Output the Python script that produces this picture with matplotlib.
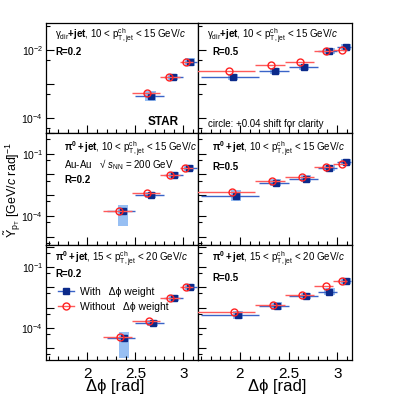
import numpy as np
import matplotlib
matplotlib.use("Agg")
import matplotlib.pyplot as plt
from matplotlib.lines import Line2D
from matplotlib.ticker import FixedLocator, FuncFormatter, MultipleLocator

plt.rcParams["font.family"] = ["Liberation Sans", "DejaVu Sans"]
plt.rcParams["mathtext.fontset"] = "custom"
plt.rcParams["mathtext.rm"] = "Liberation Sans"
plt.rcParams["mathtext.it"] = "Liberation Sans:italic"
plt.rcParams["mathtext.bf"] = "Liberation Sans:bold"

BLUE_MK = "#0b2a8a"
BLUE_BAR = "#3a64c8"
BLUE_SYS = "#8cb8f2"
RED = "#ff2020"
RED_BAR = "#ff5a5a"
SHIFT = 0.04   # circles drawn shifted for clarity

# bin edges
r02_lo = [2.2, 2.5, 2.8, 3.0]
r02_hi = [2.5, 2.8, 3.0, 3.14]
r05_lo = [1.6, 2.2, 2.5, 2.8, 3.0]
r05_hi = [2.2, 2.5, 2.8, 3.0, 3.14]

# gamma_dir+jet, 10-15 GeV/c, R=0.2
gam_r02_x = [2.66, 2.89, 3.07]
gam_r02_with = [4.5e-4, 1.6e-3, 4.4e-3]
gam_r02_without = [5.5e-4, 1.65e-3, 4.4e-3]
gam_r02_sys_up = [0.41, 0.23, 0.35]
gam_r02_sys_dn = [0.29, 0.19, 0.26]

# gamma_dir+jet, 10-15 GeV/c, R=0.5
gam_r05_x = [1.93, 2.36, 2.66, 2.92, 3.09]
gam_r05_with = [1.6e-3, 2.4e-3, 3.2e-3, 9.3e-3, 1.23e-2]
gam_r05_without = [2.4e-3, 3.6e-3, 4.5e-3, 9.3e-3, 1.0e-2]
gam_r05_sys_up = [0.26, 0.22, 0.22, 0.22, 0.22]
gam_r05_sys_dn = [0.20, 0.18, 0.18, 0.18, 0.18]

# pi0+jet, 10-15 GeV/c, R=0.2
pi1_r02_x = [2.37, 2.66, 2.90, 3.06]
pi1_r02_with = [1.8e-4, 1.05e-3, 9.8e-3, 2.1e-2]
pi1_r02_without = [1.8e-4, 1.3e-3, 9.8e-3, 2.1e-2]
pi1_r02_sys_up = [0.95, 0.41, 0.41, 0.41]
pi1_r02_sys_dn = [0.81, 0.29, 0.29, 0.29]

# pi0+jet, 10-15 GeV/c, R=0.5
pi1_r05_x = [1.96, 2.37, 2.68, 2.92, 3.09]
pi1_r05_with = [9.3e-4, 4.0e-3, 6.2e-3, 2.1e-2, 4.1e-2]
pi1_r05_without = [1.45e-3, 5.0e-3, 7.8e-3, 2.3e-2, 3.3e-2]
pi1_r05_sys_up = [0.85, 0.48, 0.48, 0.40, 0.40]
pi1_r05_sys_dn = [0.46, 0.32, 0.32, 0.28, 0.28]

# pi0+jet, 15-20 GeV/c, R=0.2
pi2_r02_x = [2.38, 2.68, 2.90, 3.07]
pi2_r02_with = [3.2e-5, 1.8e-4, 3.0e-3, 1.0e-2]
pi2_r02_without = [3.6e-5, 2.2e-4, 3.0e-3, 1.0e-2]
pi2_r02_sys_up = [0.95, 0.41, 0.41, 0.41]
pi2_r02_sys_dn = [0.90, 0.29, 0.29, 0.29]

# pi0+jet, 15-20 GeV/c, R=0.5
pi2_r05_x = [1.98, 2.38, 2.68, 2.92, 3.09]
pi2_r05_with = [4.4e-4, 1.2e-3, 3.7e-3, 5.9e-3, 2.0e-2]
pi2_r05_without = [6.0e-4, 1.35e-3, 4.2e-3, 1.15e-2, 2.0e-2]
pi2_r05_sys_up = [0.58, 0.58, 0.41, 0.48, 0.41]
pi2_r05_sys_dn = [0.37, 0.37, 0.29, 0.32, 0.29]

W, H = 397, 401


def px(x, y):
    return x / W, 1 - y / H


def draw_panel(ax, x, lo, hi, yw, ywo, up, dn):
    x = np.array(x)
    lo = np.array(lo[-len(x):])
    hi = np.array(hi[-len(x):])
    yw = np.array(yw)
    ywo = np.array(ywo)
    blo = yw * (1 - np.array(dn))
    bhi = yw * (1 + np.array(up))
    ax.bar(x, bhi - blo, bottom=blo, width=0.11, color=BLUE_SYS,
           edgecolor="none", alpha=0.9, zorder=1)
    ax.errorbar(x, yw, xerr=[x - lo, hi - x], fmt="s", ms=4.5,
                color=BLUE_MK, ecolor=BLUE_BAR, elinewidth=1.0, capsize=0,
                zorder=3)
    ax.errorbar(x - SHIFT, ywo, xerr=[x - lo, hi - x], fmt="o", ms=5,
                mfc="none", mec=RED, mew=1.0, ecolor=RED_BAR, elinewidth=1.0,
                capsize=0, zorder=4)


def style_axis(ax, ylim, labeled, show_x, show_y):
    ax.set_yscale("log")
    ax.set_xlim(np.pi / 2, np.pi + 0.01)
    ax.set_ylim(*ylim)
    decades = [10.0 ** k for k in range(-7, 2)]
    ax.yaxis.set_major_locator(FixedLocator(decades))
    ax.yaxis.set_minor_locator(FixedLocator([5 * d for d in decades]))
    ax.yaxis.set_major_formatter(FuncFormatter(
        lambda v, p: rf"$10^{{{int(round(np.log10(v)))}}}$"
        if int(round(np.log10(v))) in labeled else ""))
    ax.yaxis.set_minor_formatter(FuncFormatter(lambda v, p: ""))
    ax.xaxis.set_major_locator(MultipleLocator(0.5))
    ax.xaxis.set_minor_locator(MultipleLocator(0.1))
    ax.xaxis.set_major_formatter(FuncFormatter(lambda v, p: f"{v:g}"))
    ax.tick_params(which="both", direction="in", top=False, right=False)
    ax.tick_params(which="major", length=6, width=0.8)
    ax.tick_params(which="minor", length=3, width=0.8)
    ax.tick_params(axis="x", labelsize=11, pad=5, labelbottom=show_x)
    ax.tick_params(axis="y", labelsize=7.5, pad=2, labelleft=show_y)
    for s in ax.spines.values():
        s.set_linewidth(0.9)


fig = plt.figure(figsize=(W / 100, H / 100), dpi=100)

cols = [(46, 198), (198, 352)]
rows = [(23, 133), (133, 245), (245, 360)]
ylims = [(10 ** -4.44, 10 ** -1.21), (10 ** -5.4, 1.0), (10 ** -5.58, 10 ** 0.08)]
labeled = [(-2, -4), (-1, -4), (-1, -4)]

data = [
    [(gam_r02_x, r02_lo, r02_hi, gam_r02_with, gam_r02_without, gam_r02_sys_up, gam_r02_sys_dn),
     (gam_r05_x, r05_lo, r05_hi, gam_r05_with, gam_r05_without, gam_r05_sys_up, gam_r05_sys_dn)],
    [(pi1_r02_x, r02_lo, r02_hi, pi1_r02_with, pi1_r02_without, pi1_r02_sys_up, pi1_r02_sys_dn),
     (pi1_r05_x, r05_lo, r05_hi, pi1_r05_with, pi1_r05_without, pi1_r05_sys_up, pi1_r05_sys_dn)],
    [(pi2_r02_x, r02_lo, r02_hi, pi2_r02_with, pi2_r02_without, pi2_r02_sys_up, pi2_r02_sys_dn),
     (pi2_r05_x, r05_lo, r05_hi, pi2_r05_with, pi2_r05_without, pi2_r05_sys_up, pi2_r05_sys_dn)],
]

axes = {}
for i, (y0, y1) in enumerate(rows):
    for j, (x0, x1) in enumerate(cols):
        ax = fig.add_axes([x0 / W, 1 - y1 / H, (x1 - x0) / W, (y1 - y0) / H])
        draw_panel(ax, *data[i][j])
        style_axis(ax, ylims[i], labeled[i], show_x=(i == 2), show_y=(j == 0))
        axes[i, j] = ax

FS = 7.0
pt = r"$\mathrm{p}^{\rm ch}_{\rm T,jet}$"
gam_head = "\u03b3$_{\\rm dir}$$\\mathbf{+jet}$, 10 < " + pt + " < 15 GeV/$c$"
pi1_head = "$\\mathbf{\u03c0^{0}+jet}$, 10 < " + pt + " < 15 GeV/$c$"
pi2_head = "$\\mathbf{\u03c0^{0}+jet}$, 15 < " + pt + " < 20 GeV/$c$"

fig.text(*px(55, 36), gam_head, fontsize=FS, va="center")
fig.text(*px(55, 52), "R=0.2", fontsize=FS, fontweight="bold", va="center")
fig.text(*px(148, 122), "STAR", fontsize=8.5, fontweight="bold", va="center")
fig.text(*px(207, 36), gam_head, fontsize=FS, va="center")
fig.text(*px(212, 52), "R=0.5", fontsize=FS, fontweight="bold", va="center")
fig.text(*px(208, 124), "circle: +0.04 shift for clarity", fontsize=FS, va="center")

fig.text(*px(64, 149), pi1_head, fontsize=FS, va="center")
fig.text(*px(64, 165), "Au-Au   \u221a $s_{\\rm NN}$ = 200 GeV", fontsize=FS, va="center")
fig.text(*px(64, 180), "R=0.2", fontsize=FS, fontweight="bold", va="center")
fig.text(*px(212, 149), pi1_head, fontsize=FS, va="center")
fig.text(*px(212, 167), "R=0.5", fontsize=FS, fontweight="bold", va="center")

fig.text(*px(55, 259), pi2_head, fontsize=FS, va="center")
fig.text(*px(55, 274), "R=0.2", fontsize=FS, fontweight="bold", va="center")
fig.text(*px(212, 259), pi2_head, fontsize=FS, va="center")
fig.text(*px(212, 278), "R=0.5", fontsize=FS, fontweight="bold", va="center")

h_with = Line2D([], [], marker="s", ms=4.5, color=BLUE_BAR, mfc=BLUE_MK, mec=BLUE_MK, lw=1.0)
h_without = Line2D([], [], marker="o", ms=5, color=RED_BAR, mfc="none", mec=RED, lw=1.0)
axes[2, 0].legend([h_with, h_without],
                  ["With   \u0394\u03d5 weight", "Without   \u0394\u03d5 weight"],
                  loc="upper left", bbox_to_anchor=(0.05, 0.67), frameon=False,
                  fontsize=7.5, handlelength=1.6, handletextpad=0.5,
                  labelspacing=0.45, borderaxespad=0)

fig.text(*px(13, 190), "$\\tilde{\\mathrm{Y}}_{\\mathrm{p}_{\\rm T}}$ [GeV/$c$ rad]$^{-1}$",
         fontsize=9, rotation=90, ha="center", va="center")
fig.text(*px(115, 387), "\u0394\u03d5 [rad]", fontsize=12, ha="center", va="center")
fig.text(*px(277, 387), "\u0394\u03d5 [rad]", fontsize=12, ha="center", va="center")

fig.savefig("out.png", dpi=100)
